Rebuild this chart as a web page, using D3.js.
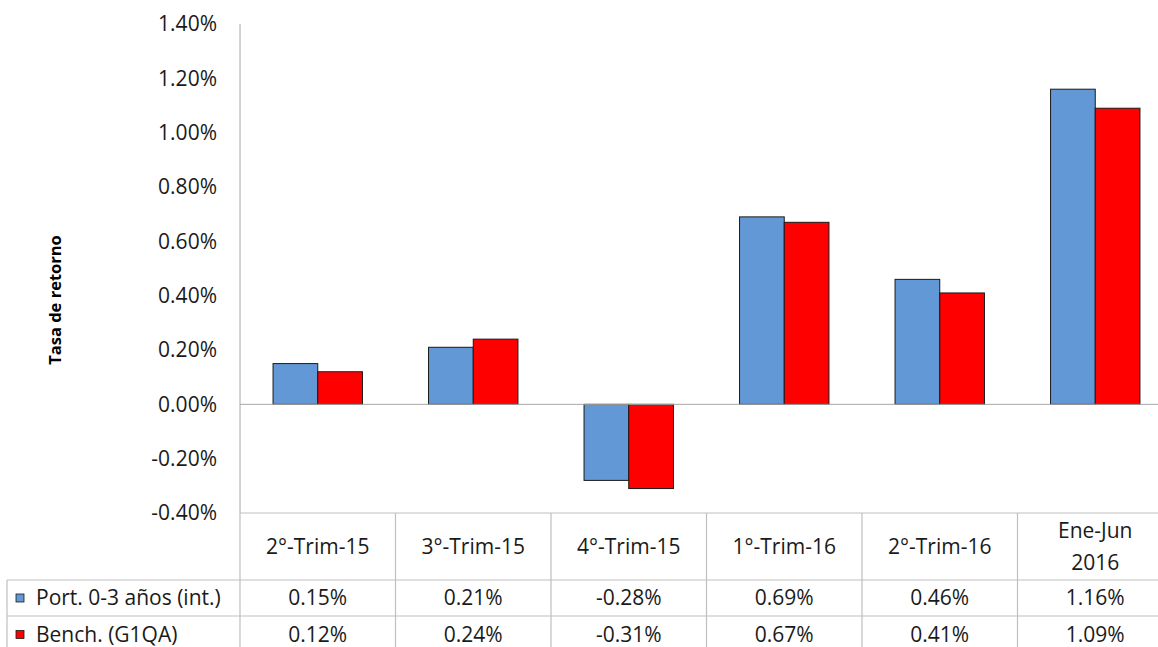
<!DOCTYPE html>
<html>
<head>
<meta charset="utf-8">
<script src="https://cdn.jsdelivr.net/npm/d3@7"></script>
<style>
  body { margin: 0; background: #fff; }
  svg { display: block; font-family: "Open Sans", sans-serif; }
</style>
</head>
<body>
<div id="chart"></div>
<script>
// data
var categories = ["2°-Trim-15", "3°-Trim-15", "4°-Trim-15", "1°-Trim-16", "2°-Trim-16", "Ene-Jun|2016"];
var seriesNames = ["Port. 0-3 años (int.)", "Bench. (G1QA)"];
var portValues = [0.15, 0.21, -0.28, 0.69, 0.46, 1.16];
var benchValues = [0.12, 0.24, -0.31, 0.67, 0.41, 1.09];
var yTicks = [-0.4, -0.2, 0, 0.2, 0.4, 0.6, 0.8, 1.0, 1.2, 1.4];
var seriesColors = ["#6298d6", "#ff0000"];

var width = 1158, height = 647;
var plotLeft = 240, plotRight = 1173, plotTop = 24, plotBottom = 513;
var tableRows = [513, 580, 616, 653];
var tableLeft = 7;
var fontSize = "21px";

// excel style percent, plain hyphen for negatives
var pct = function(d) { return d3.format(".2f")(d).replace("\u2212", "-") + "%"; };

var svg = d3.select("#chart")
    .append("svg")
    .attr("width", width)
    .attr("height", height);

var y = d3.scaleLinear()
    .domain([-0.4, 1.4])
    .range([plotBottom, plotTop]);

var x = d3.scaleBand()
    .domain(categories)
    .range([plotLeft, plotRight])
    .padding(0);

var gap = x.bandwidth() * 0.2125;
var xSub = d3.scaleBand()
    .domain([0, 1])
    .range([gap, x.bandwidth() - gap]);

// y tick labels
svg.append("g")
    .selectAll("text")
    .data(yTicks)
    .enter()
    .append("text")
    .attr("x", 217)
    .attr("y", function(d) { return y(d); })
    .attr("dy", "0.35em")
    .attr("text-anchor", "end")
    .attr("font-size", fontSize)
    .attr("fill", "#1a1a1a")
    .text(pct);

// y axis title
svg.append("text")
    .attr("transform", "translate(61,300) rotate(-90)")
    .attr("text-anchor", "middle")
    .attr("font-size", "16.5px")
    .attr("font-weight", "bold")
    .attr("fill", "#000")
    .text("Tasa de retorno");

// bars
var rows = [portValues, benchValues];
rows.forEach(function(vals, si) {
    svg.append("g")
        .selectAll("rect")
        .data(vals)
        .enter()
        .append("rect")
        .attr("x", function(d, i) { return x(categories[i]) + xSub(si); })
        .attr("y", function(d) { return y(Math.max(0, d)); })
        .attr("width", xSub.bandwidth())
        .attr("height", function(d) { return Math.abs(y(d) - y(0)); })
        .attr("fill", seriesColors[si])
        .attr("stroke", "#1a1a1a")
        .attr("stroke-width", 1);
});

// zero line and axis line
svg.append("line")
    .attr("x1", plotLeft).attr("x2", plotRight)
    .attr("y1", y(0)).attr("y2", y(0))
    .attr("stroke", "#a6a6a6").attr("stroke-width", 1);
svg.append("line")
    .attr("x1", plotLeft).attr("x2", plotLeft)
    .attr("y1", plotTop).attr("y2", plotBottom)
    .attr("stroke", "#a6a6a6").attr("stroke-width", 1);

// data table grid
var grid = svg.append("g").attr("stroke", "#bfbfbf").attr("stroke-width", 1.2);
grid.append("line")
    .attr("x1", plotLeft).attr("x2", plotRight)
    .attr("y1", tableRows[0]).attr("y2", tableRows[0]);
tableRows.slice(1).forEach(function(r) {
    grid.append("line")
        .attr("x1", tableLeft).attr("x2", plotRight)
        .attr("y1", r).attr("y2", r);
});
grid.append("line")
    .attr("x1", tableLeft).attr("x2", tableLeft)
    .attr("y1", tableRows[1]).attr("y2", tableRows[3]);
categories.forEach(function(c) {
    grid.append("line")
        .attr("x1", x(c)).attr("x2", x(c))
        .attr("y1", tableRows[0]).attr("y2", tableRows[3]);
});

// header row
var header = svg.append("g")
    .selectAll("text")
    .data(categories)
    .enter()
    .append("text")
    .attr("text-anchor", "middle")
    .attr("font-size", fontSize)
    .attr("fill", "#1a1a1a")
    .attr("x", function(d) { return x(d) + x.bandwidth() / 2; })
    .attr("y", (tableRows[0] + tableRows[1]) / 2);
header.each(function(d) {
    var parts = d.split("|");
    var t = d3.select(this);
    parts.forEach(function(p, k) {
        t.append("tspan")
            .attr("x", x(d) + x.bandwidth() / 2)
            .attr("dy", k == 0 ? (0.35 - (parts.length - 1) * 0.77) + "em" : "1.54em")
            .text(p);
    });
});

// value rows with legend keys
rows.forEach(function(vals, si) {
    var cy = (tableRows[si + 1] + tableRows[si + 2]) / 2;
    svg.append("rect")
        .attr("x", 16).attr("y", cy - 4)
        .attr("width", 8).attr("height", 8)
        .attr("fill", seriesColors[si])
        .attr("stroke", "#1a1a1a").attr("stroke-width", 0.8);
    svg.append("text")
        .attr("x", 36).attr("y", cy)
        .attr("dy", "0.35em")
        .attr("font-size", fontSize)
        .attr("fill", "#1a1a1a")
        .text(seriesNames[si]);
    svg.append("g")
        .selectAll("text")
        .data(vals)
        .enter()
        .append("text")
        .attr("x", function(d, i) { return x(categories[i]) + x.bandwidth() / 2; })
        .attr("y", cy)
        .attr("dy", "0.35em")
        .attr("text-anchor", "middle")
        .attr("font-size", fontSize)
        .attr("fill", "#1a1a1a")
        .text(pct);
});
</script>
</body>
</html>
